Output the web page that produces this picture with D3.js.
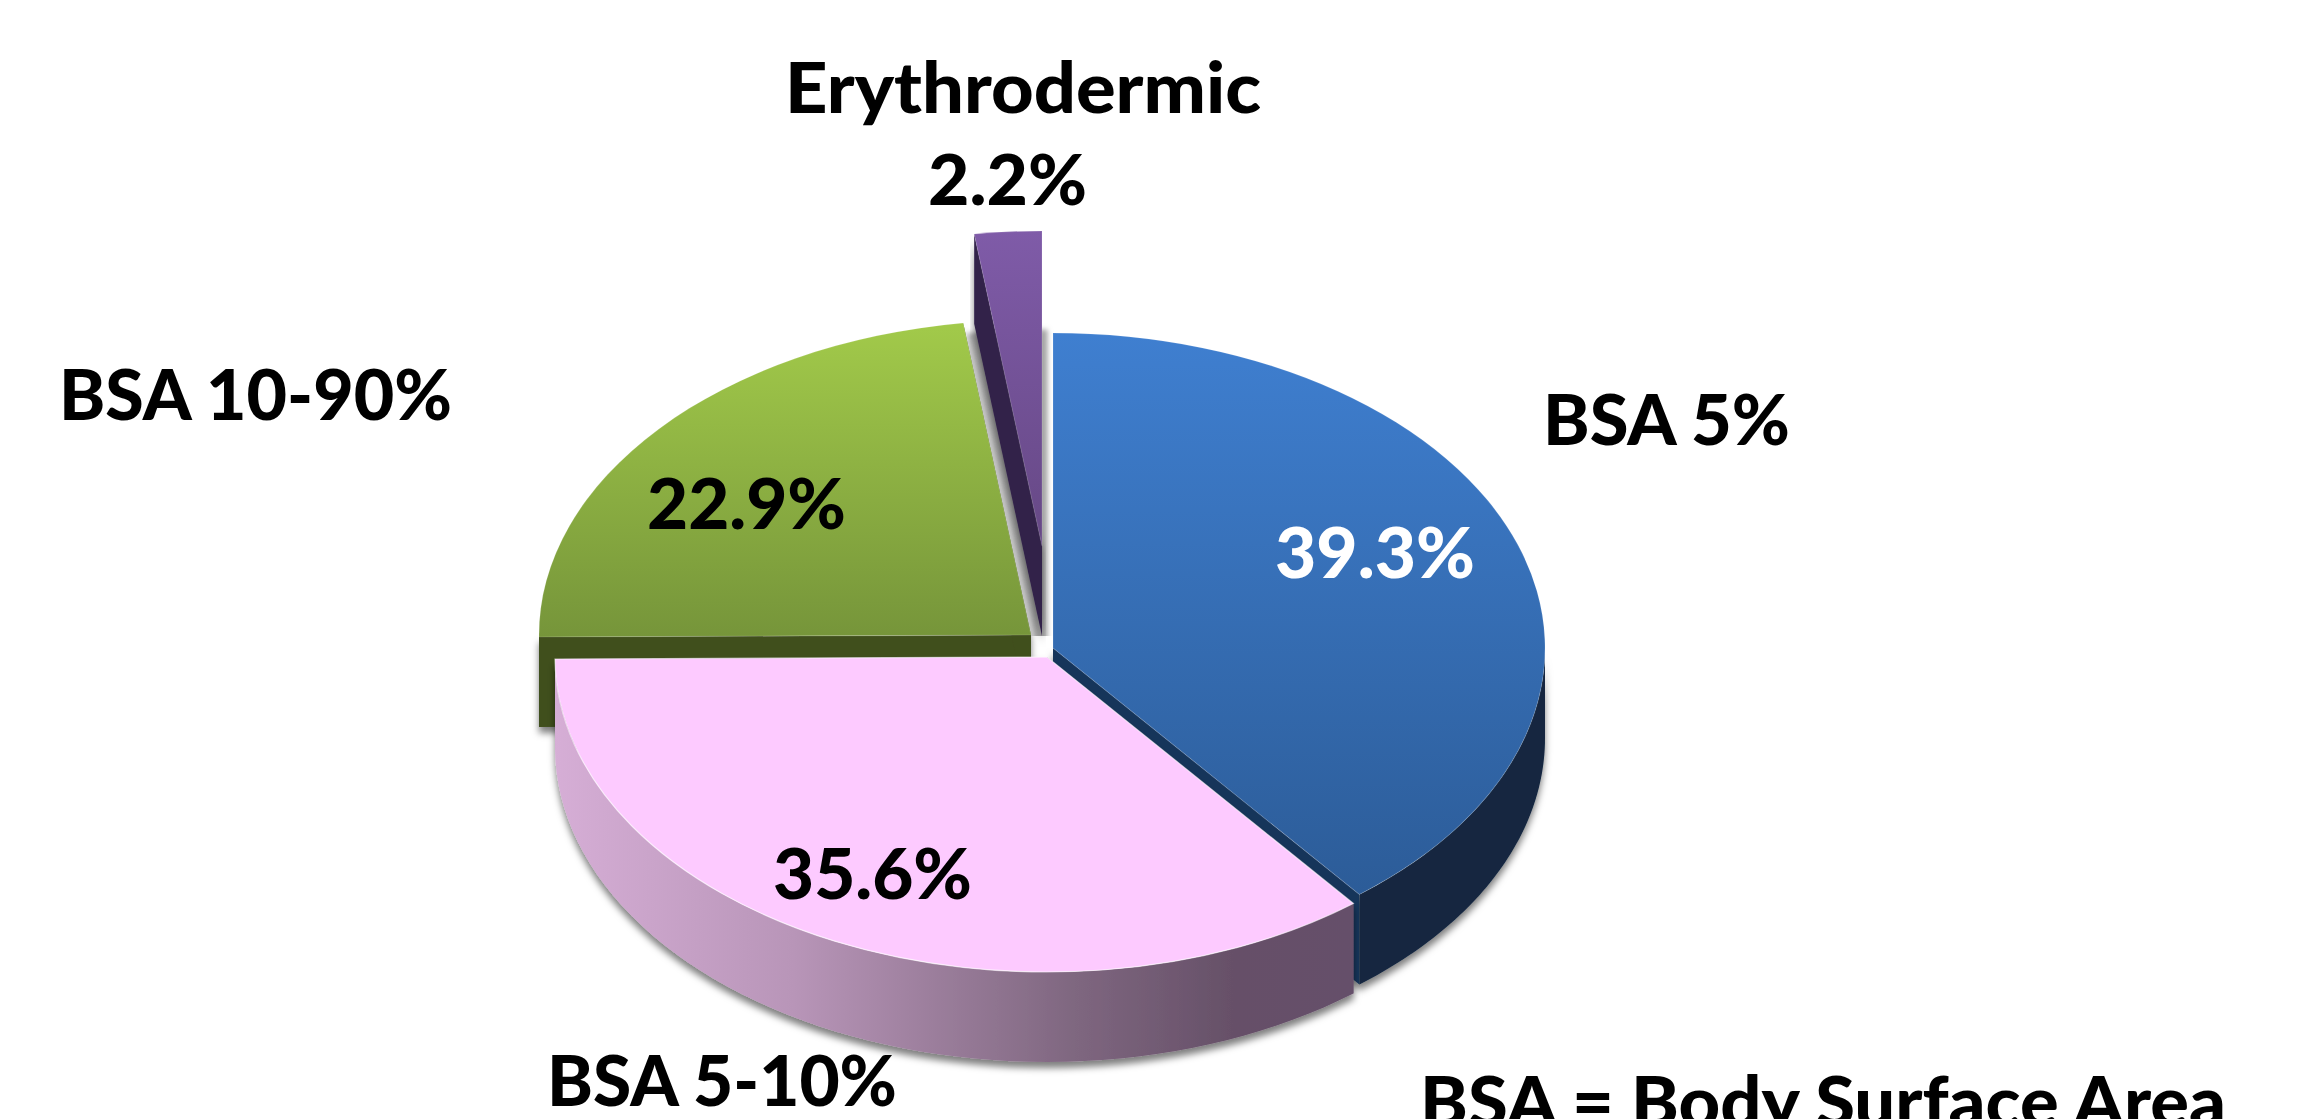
<!DOCTYPE html>
<html>
<head>
<meta charset="utf-8">
<script src="https://cdnjs.cloudflare.com/ajax/libs/d3/7.8.5/d3.min.js"></script>
<style>
  html, body { margin: 0; padding: 0; background: #fff; overflow: hidden; }
  text { font-family: Lato, "Open Sans", sans-serif; font-weight: 900; }
</style>
</head>
<body>
<svg id="chart"></svg>
<script>
// values
const categories = ["BSA 5%", "BSA 5-10%", "BSA 10-90%", "Erythrodermic"];
const shares = [39.3, 35.6, 22.9, 2.2];

const width = 2299, height = 1119;
const rx = 492, ry = 315, depth = 90;

// slices are pulled apart a bit, each has its own centre
const sliceLayout = [
  { cx: 1053, cy: 648, top: "blue", wall: "#13263f", edge: "#16345a", rim: 0.12 },
  { cx: 1047, cy: 657, top: "pink", wall: "url(#pinkWall)", edge: "#65506a", rim: 0.6 },
  { cx: 1031, cy: 635, top: "green", wall: "#404f1c", edge: "#404f1c", rim: 0.12 },
  { cx: 1042, cy: 546, top: "purple", wall: "#32234a", edge: "#32234a", rim: 0.12 },
];

const fmt = d => d.toFixed(1) + "%";

const svg = d3.select("#chart").attr("width", width).attr("height", height);
const defs = svg.append("defs");

function vGradient(id, c0, c1) {
  const g = defs.append("linearGradient").attr("id", id)
      .attr("x1", 0).attr("y1", 0).attr("x2", 0).attr("y2", 1);
  g.append("stop").attr("offset", "0%").attr("stop-color", c0);
  g.append("stop").attr("offset", "100%").attr("stop-color", c1);
}
vGradient("blue", "#3f7fd0", "#2c5c98");
vGradient("green", "#a2ca4a", "#76953a");
vGradient("pink", "#fdcaff", "#fdcaff");
vGradient("purple", "#7f5ba8", "#664885");

// side of the pink slice goes dark to the right
const pinkWall = defs.append("linearGradient").attr("id", "pinkWall")
    .attr("gradientUnits", "userSpaceOnUse")
    .attr("x1", 554).attr("y1", 0).attr("x2", 1353).attr("y2", 0);
[[0, "#d6aed6"], [0.3, "#b895b8"], [0.65, "#7f6780"], [0.85, "#665068"], [1, "#65506a"]]
  .forEach(s => pinkWall.append("stop").attr("offset", s[0]).attr("stop-color", s[1]));

const shadow = defs.append("filter").attr("id", "shadow")
    .attr("x", "-5%").attr("y", "-5%").attr("width", "110%").attr("height", "115%");
shadow.append("feDropShadow").attr("dx", 0).attr("dy", 6)
    .attr("stdDeviation", 3.5).attr("flood-color", "#000").attr("flood-opacity", 0.5);

const soft = defs.append("filter").attr("id", "soft")
    .attr("x", "-30%").attr("y", "-10%").attr("width", "160%").attr("height", "120%");
soft.append("feGaussianBlur").attr("stdDeviation", 2.5);

defs.append("clipPath").attr("id", "aboveTip")
  .append("rect").attr("x", 0).attr("y", 0).attr("width", width).attr("height", 636);

const pie = d3.pie().sort(null)(shares);
const slices = pie.map((p, i) => ({ ...p, name: categories[i], ...sliceLayout[i] }));

const arc = d3.arc().innerRadius(0).outerRadius(rx);
const line = d3.line();

const px = (s, a) => s.cx + rx * Math.sin(a);
const py = (s, a) => s.cy - ry * Math.cos(a);

// side of the rim between two angles, front half only
function rimPath(s) {
  const a0 = Math.max(s.startAngle, Math.PI / 2);
  const a1 = Math.min(s.endAngle, 3 * Math.PI / 2);
  if (a1 <= a0) return null;
  const as = d3.range(0, 61).map(k => a0 + (a1 - a0) * k / 60);
  const pts = as.map(a => [px(s, a), py(s, a)])
      .concat(as.slice().reverse().map(a => [px(s, a), py(s, a) + depth]));
  return line(pts) + "Z";
}

// side cut along one radius
function edgePath(s, a) {
  const x = px(s, a), y = py(s, a);
  return line([[s.cx, s.cy], [x, y], [x, y + depth], [s.cx, s.cy + depth]]) + "Z";
}

// grey shade the purple piece drops on the back
const purple = slices[3];
svg.append("g").attr("clip-path", "url(#aboveTip)").append("g").attr("filter", "url(#soft)")
  .append("path")
    .attr("d", arc(purple))
    .attr("transform", `translate(${purple.cx},${purple.cy + depth + 14}) scale(1,${ry / rx})`)
    .attr("fill", "#a4a4a4")
    .attr("stroke", "#a4a4a4")
    .attr("stroke-width", 11)
    .attr("vector-effect", "non-scaling-stroke");

// back pieces first, pink goes over the others
const drawOrder = [3, 2, 0, 1];
const g = svg.append("g").selectAll("g")
    .data(drawOrder.map(i => slices[i]))
    .join("g");

const walls = g.append("g").attr("filter", "url(#shadow)");
walls.append("path").attr("d", d => edgePath(d, d.startAngle)).attr("fill", d => d.edge);
walls.append("path").attr("d", d => edgePath(d, d.endAngle)).attr("fill", d => d.edge);
walls.filter(d => rimPath(d)).append("path").attr("d", rimPath).attr("fill", d => d.wall);

g.append("path")
    .attr("d", arc)
    .attr("transform", d => `translate(${d.cx},${d.cy}) scale(1,${ry / rx})`)
    .attr("fill", d => `url(#${d.top})`)
    .attr("stroke", "#fff")
    .attr("stroke-opacity", d => d.rim)
    .attr("stroke-width", 1.2)
    .attr("vector-effect", "non-scaling-stroke");

// texts, w is the width each one has in the picture
const labels = [
  { t: categories[3], x: 785, y: 113, w: 476 },
  { t: fmt(shares[3]), x: 928, y: 205, w: 159 },
  { t: categories[2], x: 59, y: 420, w: 393 },
  { t: categories[0], x: 1543, y: 445, w: 247 },
  { t: fmt(shares[0]), x: 1275, y: 578, w: 200, fill: "#fff" },
  { t: fmt(shares[2]), x: 647, y: 529, w: 199 },
  { t: fmt(shares[1]), x: 773, y: 899, w: 199 },
  { t: categories[1], x: 547, y: 1106, w: 350 },
  { t: "BSA = Body Surface Area", x: 1420, y: 1127, w: 806 },
];

svg.append("g").selectAll("text")
    .data(labels)
    .join("text")
    .attr("x", d => d.x)
    .attr("y", d => d.y)
    .attr("textLength", d => d.w)
    .attr("lengthAdjust", "spacingAndGlyphs")
    .attr("font-size", 70)
    .attr("fill", d => d.fill || "#000")
    .text(d => d.t);
</script>
</body>
</html>
